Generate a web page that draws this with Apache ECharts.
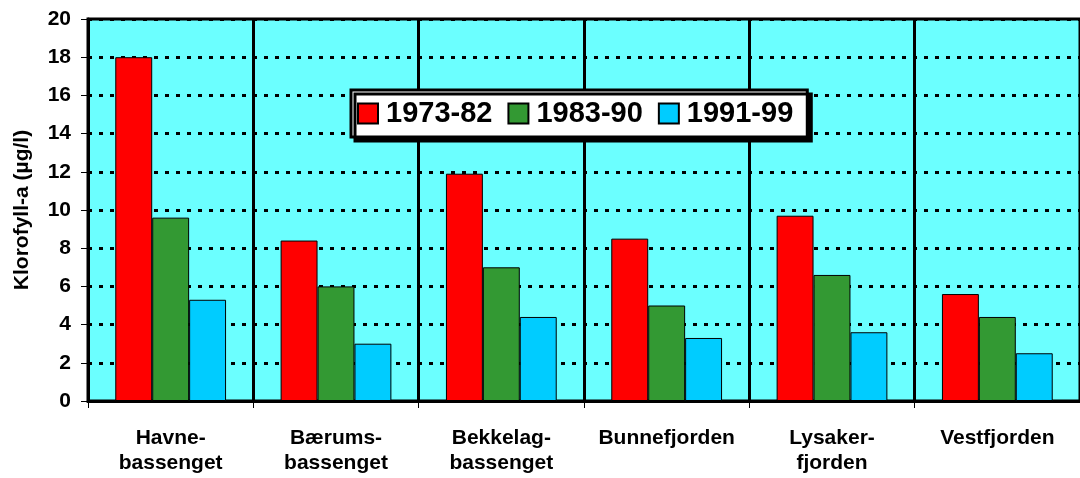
<!DOCTYPE html>
<html>
<head>
<meta charset="utf-8">
<script src="https://cdn.jsdelivr.net/npm/echarts@6/dist/echarts.min.js"></script>
<style>html,body{margin:0;padding:0;background:#fff}#c{width:1080px;height:478px}</style>
</head>
<body>
<div id="c"></div>
<script>
const categories = ['Havne-\nbassenget', 'Bærums-\nbassenget', 'Bekkelag-\nbassenget', 'Bunnefjorden', 'Lysaker-\nfjorden', 'Vestfjorden'];
const seriesNames = ['1973-82', '1983-90', '1991-99'];
const v1973 = [18.0, 8.4, 11.9, 8.5, 9.7, 5.6];
const v1983 = [9.6, 6.0, 7.0, 5.0, 6.6, 4.4];
const v1991 = [5.3, 3.0, 4.4, 3.3, 3.6, 2.5];
const yTicks = [0, 2, 4, 6, 8, 10, 12, 14, 16, 18, 20];
const colors = ['#FF0000', '#339933', '#00CCFF'];
const values = [v1973, v1983, v1991];

const FONT = 'Arial, "Liberation Sans", sans-serif';
const chart = echarts.init(document.getElementById('c'));
chart.setOption({
  animation: false,
  grid: {
    left: 88, top: 19, right: -4, bottom: 77,
    show: true, backgroundColor: '#6BFFFF', borderColor: '#000', borderWidth: 3
  },
  legend: {
    left: 351, top: 90,
    padding: [9, 14, 9, 6],
    itemWidth: 20, itemHeight: 20, itemGap: 15,
    icon: 'rect',
    backgroundColor: '#fff', borderColor: '#000', borderWidth: 3,
    shadowColor: '#000', shadowOffsetX: 4, shadowOffsetY: 4, shadowBlur: 0,
    textStyle: { fontFamily: FONT, fontWeight: 'bold', fontSize: 29, color: '#000', padding: [0, 0, 0, 3] },
    data: seriesNames
  },
  xAxis: {
    type: 'category',
    data: categories,
    boundaryGap: true,
    axisLine: { lineStyle: { color: '#000', width: 3 } },
    axisTick: { show: true, length: 7, lineStyle: { color: '#000', width: 1 } },
    splitLine: { show: true, lineStyle: { color: '#000', width: 3 } },
    axisLabel: { fontFamily: FONT, fontWeight: 'bold', fontSize: 21, color: '#000', lineHeight: 25, margin: 25, interval: 0 }
  },
  yAxis: {
    type: 'value',
    min: 0, max: 20, interval: 2,
    name: 'Klorofyll-a (µg/l)',
    nameLocation: 'middle',
    nameGap: 55,
    nameRotate: 90,
    nameTextStyle: { fontFamily: FONT, fontWeight: 'bold', fontSize: 21, color: '#000' },
    axisLine: { show: true, lineStyle: { color: '#000', width: 3 } },
    axisTick: { show: true, length: 7, lineStyle: { color: '#000', width: 1 } },
    axisLabel: {
      fontFamily: FONT, fontWeight: 'bold', fontSize: 21, color: '#000', margin: 17,
      formatter: function (v) { return yTicks.indexOf(v) >= 0 ? String(v) : ''; }
    },
    splitLine: { show: true, lineStyle: { color: '#000', width: 3, type: [4, 7] } }
  },
  series: seriesNames.map(function (n, i) {
    return {
      name: n, type: 'bar', data: values[i],
      barGap: '0%', barCategoryGap: '33%',
      itemStyle: { color: colors[i], borderColor: '#000', borderWidth: 1 }
    };
  })
});
</script>
</body>
</html>
